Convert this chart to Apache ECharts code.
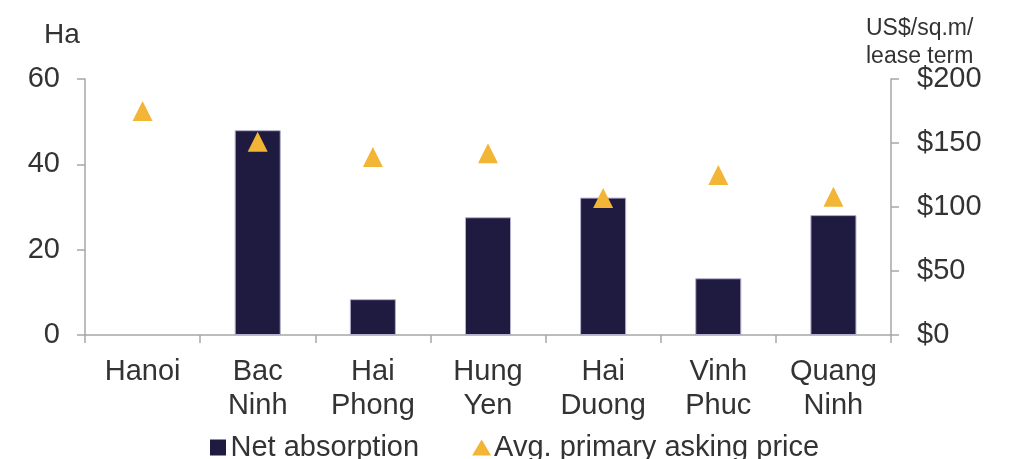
<!DOCTYPE html>
<html>
<head>
<meta charset="utf-8">
<script src="https://cdn.jsdelivr.net/npm/echarts@6/dist/echarts.min.js"></script>
<style>
  html, body { margin: 0; padding: 0; background: #ffffff; }
  #chart { width: 1015px; height: 459px; }
</style>
</head>
<body>
<div id="chart"></div>
<script>
// Provinces (two-line labels)
const categories = ['Hanoi', 'Bac\nNinh', 'Hai\nPhong', 'Hung\nYen', 'Hai\nDuong', 'Vinh\nPhuc', 'Quang\nNinh'];
// Net absorption, Ha
const netAbsorption = [null, 48.0, 8.4, 27.6, 32.2, 13.3, 28.1];
// Average primary asking price, US$/sq.m/lease term
const askingPrice = [175, 151, 139, 142, 107, 125, 108];
// Axis ticks
const leftTicks = { min: 0, max: 60, interval: 20 };
const rightTicks = { min: 0, max: 200, interval: 50 };

const FONT = '"Liberation Sans", Arial, sans-serif';
const TEXT = '#333333';
const AXIS = '#a6a6a6';
const BAR = '#1f1a40';
const MARK = '#f2b535';
const FS = 29;

const chart = echarts.init(document.getElementById('chart'), null, { renderer: 'canvas' });

const axisLine = { show: true, lineStyle: { color: AXIS, width: 1.5 } };
const axisTick = { show: true, length: 8, lineStyle: { color: AXIS, width: 1.5 } };

chart.setOption({
  animation: false,
  backgroundColor: '#ffffff',
  textStyle: { fontFamily: FONT },
  grid: { left: 85, right: 124, top: 79, bottom: 124, containLabel: false, outerBoundsMode: 'none' },
  legend: {
    left: 210,
    top: 433,
    padding: 0,
    itemGap: 53,
    itemWidth: 19,
    itemHeight: 16,
    textStyle: { fontSize: FS, color: TEXT, fontFamily: FONT, padding: [0, 0, 0, -2] },
    data: [
      { name: 'Net absorption', icon: 'path://M2,0.5H17V15.5H2Z', itemStyle: { color: BAR, borderWidth: 0 } },
      { name: 'Avg. primary asking price', icon: 'triangle', itemStyle: { color: MARK, opacity: 1 } }
    ]
  },
  graphic: [
    { type: 'text', left: 44, top: 21, style: { text: 'Ha', fontSize: 28, fill: TEXT, fontFamily: FONT } },
    { type: 'text', left: 866, top: 15, style: { text: 'US$/sq.m/\nlease term', fontSize: 23, lineHeight: 28, fill: TEXT, fontFamily: FONT } }
  ],
  xAxis: {
    type: 'category',
    data: categories,
    axisLine: axisLine,
    axisTick: axisTick,
    axisLabel: { fontSize: FS, lineHeight: 34, color: TEXT, margin: 20, fontFamily: FONT, interval: 0 },
    splitLine: { show: false }
  },
  yAxis: [
    {
      type: 'value',
      min: leftTicks.min, max: leftTicks.max, interval: leftTicks.interval,
      axisLine: axisLine,
      axisTick: axisTick,
      axisLabel: { fontSize: FS, color: TEXT, margin: 25, fontFamily: FONT },
      splitLine: { show: false }
    },
    {
      type: 'value',
      position: 'right',
      min: rightTicks.min, max: rightTicks.max, interval: rightTicks.interval,
      axisLine: axisLine,
      axisTick: axisTick,
      axisLabel: { fontSize: FS, color: TEXT, margin: 26, fontFamily: FONT, formatter: v => '$' + v },
      splitLine: { show: false }
    }
  ],
  series: [
    {
      name: 'Net absorption',
      type: 'bar',
      yAxisIndex: 0,
      barWidth: '40%',
      data: netAbsorption,
      itemStyle: { color: BAR, borderColor: '#b4b0cc', borderWidth: 1 }
    },
    {
      name: 'Avg. primary asking price',
      type: 'scatter',
      yAxisIndex: 1,
      symbol: 'triangle',
      symbolSize: [20, 20],
      data: askingPrice,
      itemStyle: { color: MARK, opacity: 1 },
      z: 5
    }
  ]
});
</script>
</body>
</html>
